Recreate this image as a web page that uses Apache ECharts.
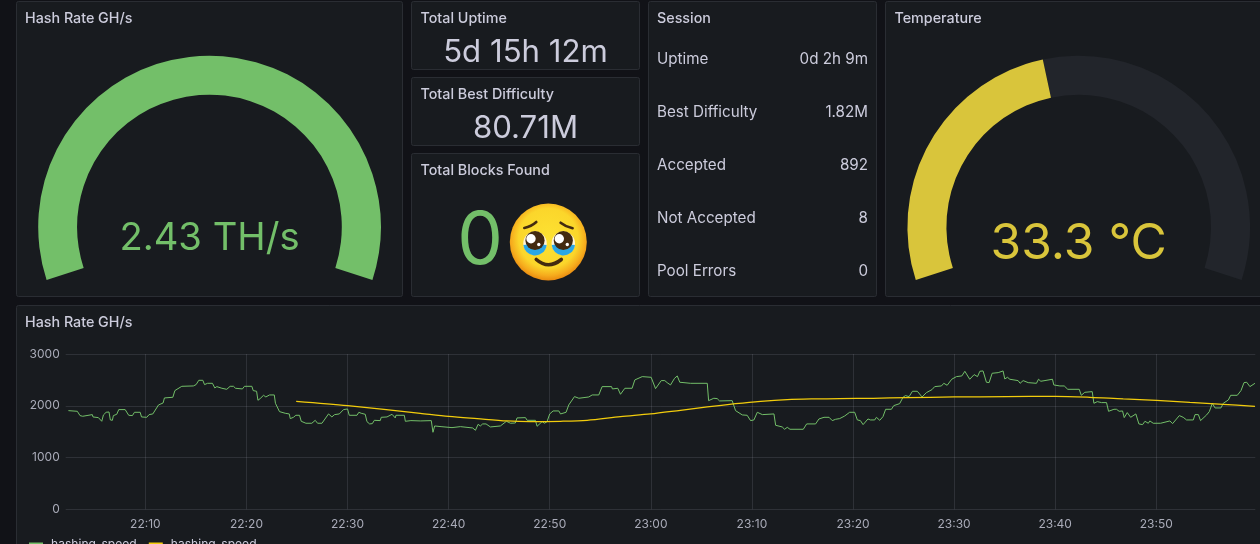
<!DOCTYPE html>
<html>
<head>
<meta charset="utf-8">
<style>html,body{margin:0;padding:0;background:#111217;overflow:hidden}#c{width:1260px;height:544px}</style>
<script src="https://cdn.jsdelivr.net/npm/echarts@6/dist/echarts.min.js"></script>
</head>
<body>
<div id="c"></div>
<script>
const FONT = 'Inter';
const TXT = '#ccccdc';
const GREEN = '#73bf69';
const YELLOW_GAUGE = '#d9c53b';
const TREND = '#f2cc0c';

const hashRateValue = 2430;
const hashRateMax = 2430;
const hashRateLabel = '2.43 TH/s';
const temperatureValue = 33.3;
const temperatureMax = 75;
const temperatureLabel = '33.3 °C';

const sessionLabels = ['Uptime', 'Best Difficulty', 'Accepted', 'Not Accepted', 'Pool Errors'];
const sessionValues = ['0d 2h 9m', '1.82M', '892', '8', '0'];
const legendNames = ['hashing_speed', 'hashing_speed '];

// seconds after 22:00:00
const hashSeconds = [143,196,212,228,236,285,289,321,341,351,367,384,392,404,410,430,442,480,501,523,535,569,577,608,622,644,678,705,713,763,775,816,885,901,917,941,951,969,998,1012,1024,1054,1083,1103,1123,1135,1176,1188,1232,1240,1260,1268,1281,1301,1315,1337,1365,1372,1396,1430,1454,1460,1479,1493,1515,1525,1553,1588,1608,1622,1648,1687,1707,1723,1751,1776,1800,1810,1856,1867,1881,1905,1915,1931,1947,1959,1994,2000,2034,2064,2083,2087,2137,2143,2176,
2232,2297,2307,2317,2355,2420,2430,2470,2543,2559,2575,2588,2602,2622,2648,2707,2743,2767,2796,2806,2856,2866,2915,2925,2955,2969,2984,3000,3020,3054,3064,3097,3113,3147,3173,3232,3252,3291,3311,3367,3372,3404,3420,3446,3489,3505,3549,3602,3628,3662,3683,3697,3717,3741,3757,3772,3836,3935,3943,3974,3994,4008,4083,4103,4143,4172,4192,4212,4232,4262,4331,4341,4380,4394,4410,4426,4505,4525,4578,4598,4628,4658,4677,4697,
4721,4751,4780,4810,4826,4844,4860,4889,4903,4929,4939,4959,4978,4994,5028,5042,5077,5097,5111,5133,5153,5182,5210,5236,5269,5285,5325,5339,5359,5386,5414,5446,5464,5493,5519,5539,5553,5572,5592,5608,5626,5662,5691,5701,5717,5731,5780,5792,5810,5840,5889,5901,5915,5984,5992,6028,6054,6075,6143,6155,6176,6220,6230,6250,6275,6305,6317,6349,6364,6380,6400,6410,6428,6448,6479,6487,6497,6519,6533,6553,6562,6582,6626,6632,6681,6697,6737,6760,6780,6820,6830,6850,6863,6899,6915,6933,6949,6984,6998,7028,7042,7081,7103,7121,7137,7156,7186];
const hashValues = [1906,1893,1810,1797,1835,1829,1784,1771,1700,1823,1874,1880,1726,1719,1810,1835,1926,1926,1816,1810,1874,1874,1784,1777,1829,1842,2016,2054,2151,2164,2293,2376,2383,2409,2492,2492,2409,2434,2434,2344,2370,2338,2318,2376,2376,2338,2325,2376,2376,2293,2280,2106,2138,2202,2170,2209,2209,2048,1887,1855,1842,1752,1777,1816,1816,1700,1662,1662,1719,1662,1662,1842,1784,1829,1842,1926,1938,1816,1816,1874,1855,1835,1694,1649,1655,1719,1713,1777,1784,1835,1765,1816,1816,1700,1713,
1707,1713,1488,1610,1597,1578,1546,1597,1571,1526,1642,1610,1649,1649,1591,1610,1700,1662,1668,1765,1771,1719,1719,1604,1694,1662,1694,1842,1900,1900,1842,1874,2016,2177,2145,2170,2209,2209,2370,2370,2325,2338,2222,2338,2338,2499,2563,2550,2331,2486,2486,2447,2402,2531,2576,2454,2434,2434,2099,2145,2138,2093,2099,1906,1823,1816,1713,1726,1874,1829,1842,1623,1591,1546,1584,1546,1546,1649,1649,1745,1777,1777,1713,1739,
1752,1803,1874,1874,1726,1713,1636,1745,1726,1726,1777,1719,1790,1932,1932,2003,2041,2164,2196,2177,2280,2280,2170,2254,2312,2370,2383,2434,2396,2512,2563,2576,2666,2512,2602,2563,2666,2673,2454,2447,2628,2640,2673,2518,2550,2512,2486,2434,2486,2447,2434,2512,2473,2512,2402,2383,2383,2318,2318,2202,2260,2273,2048,2080,2061,2061,1893,1932,1932,1893,1900,1771,1868,1777,1842,1842,1649,1636,1700,1662,1707,1662,1662,1700,1707,1655,1810,1777,1726,1726,1829,1829,1713,1823,1887,2048,1958,1958,2048,2112,2202,2202,2293,2447,2454,2370,2434];

const trendSeconds = [1495,1800,2232,2400,2569,2747,2885,3064,3222,3420,3598,3776,3935,4103,4252,4410,4568,4721,4919,5117,5400,5711,6000,6206,6404,6602,6800,6998,7186];
const trendValues = [2087,2003,1855,1797,1752,1707,1694,1700,1719,1790,1842,1913,1977,2041,2087,2119,2132,2138,2145,2157,2170,2177,2183,2164,2132,2106,2067,2029,1990];

const axisStartSec = 127;
const axisEndSec = 7188;
const xTickSeconds = [600,1200,1800,2400,3000,3600,4200,4800,5400,6000,6600];
const yTicks = [0, 1000, 2000, 3000];

const toPairs = (s, v) => s.map((t, i) => [t, v[i]]);
const pad2 = n => String(n).padStart(2, '0');
const formatTime = v => { const m = 22 * 60 + Math.round(v / 60); return pad2(Math.floor(m / 60) % 24) + ':' + pad2(m % 60); };

function panel(x, y, w, h) {
  return { type: 'rect', silent: true, z: 0, shape: { x: x + .5, y: y + .5, width: w, height: h, r: 2 },
    style: { fill: '#181b1f', stroke: '#2a2d33', lineWidth: 1 } };
}
function label(text, x, y, size, color, opts) {
  return Object.assign({ type: 'text', silent: true, z: 4, x, y,
    style: Object.assign({ text, fill: color || TXT, font: '400 ' + size + 'px ' + FONT, textAlign: 'left', textVerticalAlign: 'middle' }, opts || {}) });
}
function title(text, x, y) {
  return label(text, x, y, 14.3, TXT, { font: '500 14.3px ' + FONT });
}
function gauge(center, value, max, color, text, size, track, offY) {
  return { type: 'gauge', center, radius: 171.3, startAngle: 198, endAngle: -18, min: 0, max,
    silent: true, z: 3,
    axisLine: { roundCap: false, lineStyle: { width: 39, color: [[value / max, color], [1, track]] } },
    axisTick: { show: false }, splitLine: { show: false }, axisLabel: { show: false }, pointer: { show: false },
    anchor: { show: false }, title: { show: false },
    detail: { valueAnimation: false, offsetCenter: [0, offY], formatter: () => text, color, fontFamily: FONT, fontSize: size, fontWeight: 400 },
    data: [{ value }] };
}
// the crying-face emoji, which has no installed font, drawn from shapes
function emoji(cx, cy) {
  const DARK = '#432a10';
  const c = (x, y, r, fill, z) => ({ type: 'circle', silent: true, z: z || 6, shape: { cx: cx + x, cy: cy + y, r }, style: { fill } });
  const sector = (x, y, r, fill) => ({ type: 'sector', silent: true, z: 7, shape: { cx: cx + x, cy: cy + y, r, r0: 0, startAngle: 0.1, endAngle: Math.PI - 0.1 }, style: { fill } });
  const stroke = (pts, w) => ({ type: 'bezierCurve', silent: true, z: 9, shape: { x1: cx + pts[0], y1: cy + pts[1], cpx1: cx + pts[2], cpy1: cy + pts[3], x2: cx + pts[4], y2: cy + pts[5] }, style: { stroke: DARK, lineWidth: w, fill: 'none', lineCap: 'round' } });
  return [
    { type: 'circle', silent: true, z: 5, shape: { cx, cy, r: 38.5 },
      style: { fill: { type: 'radial', x: .5, y: .45, r: .55, colorStops: [{ offset: 0, color: '#fde232' }, { offset: .7, color: '#fbd62b' }, { offset: .88, color: '#f6ac1d' }, { offset: 1, color: '#e98a10' }] } } },
    c(-13.3, 1.3, 11.7, '#fff4d8'), c(15, 1.3, 11.7, '#fff4d8'),
    sector(-13.3, 1.8, 11.7, '#2aa6e6'), sector(15, 1.8, 11.7, '#2aa6e6'),
    c(-13.3, -1.5, 9.6, DARK, 8), c(15, -1.5, 9.6, DARK, 8),
    c(-17.3, -3.3, 4.7, '#ffffff', 9), c(11, -3.3, 4.7, '#ffffff', 9),
    c(-9.5, 2.5, 1.7, '#ffffff', 9), c(19, 2.5, 1.7, '#ffffff', 9),
    stroke([-24, -14, -17, -15.5, -12, -20], 2.6),
    stroke([24.3, -13.7, 17, -15.5, 12.3, -19.3], 2.6),
    stroke([-12, 17.5, 0, 28, 13, 17.5], 3.6)
  ];
}

const sessionYs = [59.5, 112.5, 165.5, 218.5, 271.5];

const graphicElements = [
  panel(16, 1, 386, 295), panel(411, 1, 228, 68), panel(411, 77, 228, 68), panel(411, 153, 228, 143),
  panel(648, 1, 228, 295), panel(885, 1, 400, 295), panel(16, 305, 1260, 260),
  title('Hash Rate GH/s', 25, 19), title('Total Uptime', 420.5, 19), title('Total Best Difficulty', 420.5, 95),
  title('Total Blocks Found', 420.5, 171), title('Session', 657, 19), title('Temperature', 894.5, 19),
  title('Hash Rate GH/s', 25, 323),
  label('5d 15h 12m', 525.5, 52.5, 31.2, TXT, { textAlign: 'center' }),
  label('80.71M', 525.5, 128.5, 31.2, TXT, { textAlign: 'center' }),
  label('0', 480, 242, 72.5, GREEN, { textAlign: 'center' })
].concat(
  sessionLabels.map((t, i) => label(t, 657, sessionYs[i], 15.2, TXT)),
  sessionValues.map((t, i) => label(t, 868, sessionYs[i], 15.2, TXT, { textAlign: 'right' })),
  emoji(548.3, 242)
);

const chart = echarts.init(document.getElementById('c'), null, { width: 1260, height: 544 });
chart.setOption({
  animation: false,
  backgroundColor: '#111217',
  textStyle: { fontFamily: FONT },
  graphic: { elements: graphicElements },
  grid: { left: 65.7, right: 4.7, top: 354, bottom: 34.7, containLabel: false },
  legend: { left: 29, top: 538.5, itemWidth: 14, itemHeight: 4, itemGap: 12, icon: 'rect', padding: 0,
    data: legendNames, textStyle: { color: TXT, fontFamily: FONT, fontSize: 12.1, padding: [0, 0, 0, 3] } },
  xAxis: { type: 'value', min: axisStartSec, max: axisEndSec,
    axisLine: { show: false }, axisTick: { show: false, customValues: xTickSeconds },
    splitLine: { show: true, lineStyle: { color: 'rgba(204,204,220,0.13)', width: 1 } },
    axisLabel: { color: '#a9abb8', fontFamily: FONT, fontSize: 12, margin: 9, hideOverlap: false, customValues: xTickSeconds,
      formatter: formatTime } },
  yAxis: { type: 'value', min: yTicks[0], max: yTicks[3], interval: 1000,
    axisLine: { show: false }, axisTick: { show: false },
    splitLine: { lineStyle: { color: 'rgba(204,204,220,0.13)', width: 1 } },
    axisLabel: { color: '#a9abb8', fontFamily: FONT, fontSize: 12, margin: 6, formatter: v => String(v) } },
  series: [
    gauge([209.5, 227], hashRateValue, hashRateMax, GREEN, hashRateLabel, 38.2, '#22252b', 12),
    gauge([1078.7, 227], temperatureValue, temperatureMax, YELLOW_GAUGE, temperatureLabel, 49.7, '#22252b', 17),
    { name: legendNames[0], type: 'line', showSymbol: false, silent: true, z: 3, data: toPairs(hashSeconds, hashValues),
      lineStyle: { color: GREEN, width: 1 }, itemStyle: { color: GREEN } },
    { name: legendNames[1], type: 'line', showSymbol: false, silent: true, z: 4, smooth: .3, data: toPairs(trendSeconds, trendValues),
      lineStyle: { color: TREND, width: 1.25 }, itemStyle: { color: TREND } }
  ]
});
</script>
</body>
</html>
